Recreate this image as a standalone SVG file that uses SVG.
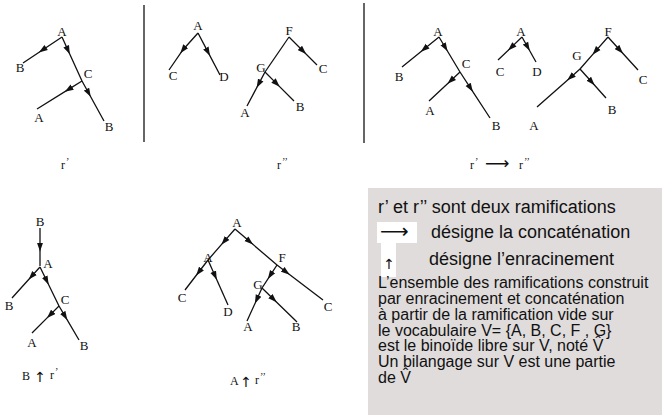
<svg xmlns="http://www.w3.org/2000/svg" width="662" height="415" viewBox="0 0 662 415">
<style>
.lb{font-family:"Liberation Serif","Times New Roman",serif;font-size:13px;fill:#111;text-anchor:middle}
.cap{font-family:"Liberation Serif","Times New Roman",serif;font-size:12px;fill:#111}
.pr{font-size:10px}
.sym{font-family:"DejaVu Sans",sans-serif;fill:#111}
.mid{text-anchor:middle}
.e{fill:none;stroke:#111;stroke-width:1.3;marker-mid:url(#ah)}
.p{fill:none;stroke:#111;stroke-width:1.3}
.tx{font-family:"Liberation Sans",Arial,sans-serif;fill:#111}
</style>
<defs>
<marker id="ah" markerUnits="userSpaceOnUse" viewBox="0 0 10 8" refX="5" refY="4" markerWidth="9" markerHeight="7" orient="auto">
<path d="M0,0.5 L10,4 L0,7.5 z" fill="#111"/>
</marker>
</defs>
<rect width="662" height="415" fill="#fff"/>
<g id="dividers">
<line x1="144" y1="5" x2="144" y2="142" stroke="#333" stroke-width="1.5"/>
<line x1="364" y1="3" x2="364" y2="143" stroke="#333" stroke-width="1.5"/>
</g>
<g id="connectors">
<path class="e" d="M62,37 L42.5,50 L23,63"/>
<path class="e" d="M62,37 L68,50.2 L82,81"/>
<path class="e" d="M82,81 L88.6,93 L104,121"/>
<path class="e" d="M82,81 L68.5,89.4 L37,109"/>
<path class="e" d="M198,33 L183,49.7 L169,70"/>
<path class="e" d="M198,33 L207.9,51.9 L220,75"/>
<path class="e" d="M289,37 L303,51 L317,65"/>
<path class="p" d="M289,37 L265,72"/>
<path class="e" d="M265,72 L258.7,83.9 L247,106"/>
<path class="e" d="M265,72 L276.6,83.6 L294,101"/>
<path class="e" d="M439,37 L424.2,49 L402,67"/>
<path class="e" d="M439,37 L445.3,47.5 L460,72"/>
<path class="e" d="M460,72 L470.5,88.1 L490,118"/>
<path class="e" d="M460,72 L450.7,80.7 L429,101"/>
<path class="e" d="M522,37 L511.2,47.4 L498,60"/>
<path class="e" d="M522,37 L527.6,47 L536,62"/>
<path class="e" d="M608,37 L620,50.2 L638,70"/>
<path class="e" d="M608,37 L595.4,51.4 L580,69"/>
<path class="e" d="M580,69 L570.5,77.4 L537,107"/>
<path class="e" d="M580,69 L591.7,82 L606,98"/>
<path class="e" d="M40,228 L40,247 L40,266"/>
<path class="e" d="M40,267 L31.6,276.3 L12,298"/>
<path class="e" d="M40,267 L46.7,280.7 L59,306"/>
<path class="e" d="M59,306 L65,316.2 L79,340"/>
<path class="e" d="M59,306 L50.1,314.9 L32,333"/>
<path class="e" d="M235,229 L224.2,241.4 L208,260"/>
<path class="e" d="M208,260 L198.8,272 L185,290"/>
<path class="e" d="M208,260 L215,275.75 L228,305"/>
<path class="e" d="M235,229 L249.7,241.6 L277,265"/>
<path class="e" d="M277,265 L286.2,272 L323,300"/>
<path class="e" d="M277,265 L270.25,275.35 L262,288"/>
<path class="e" d="M262,288 L256.75,299.55 L247,321"/>
<path class="e" d="M262,288 L273.55,299.2 L297,322"/>
</g>
<g id="r1">
<g id="r1-A"><text class="lb" x="62" y="36">A</text></g>
<g id="r1-B"><text class="lb" x="20" y="72">B</text></g>
<g id="r1-C"><text class="lb" x="88" y="78">C</text></g>
<g id="r1-A2"><text class="lb" x="39" y="122">A</text></g>
<g id="r1-B2"><text class="lb" x="109" y="131">B</text></g>
<g id="r1-cap"><text class="cap" x="61" y="169">r<tspan class="pr" dx="1" dy="-4">’</tspan></text></g>
</g>
<g id="r2">
<g id="r2-A"><text class="lb" x="198" y="30">A</text></g>
<g id="r2-C"><text class="lb" x="173" y="80">C</text></g>
<g id="r2-D"><text class="lb" x="224" y="81">D</text></g>
<g id="r2-F"><text class="lb" x="289" y="35">F</text></g>
<g id="r2-C2"><text class="lb" x="323" y="73">C</text></g>
<g id="r2-G"><text class="lb" x="261" y="72">G</text></g>
<g id="r2-A2"><text class="lb" x="245" y="117">A</text></g>
<g id="r2-B"><text class="lb" x="300" y="111">B</text></g>
<g id="r2-cap"><text class="cap" x="277" y="169">r<tspan class="pr" dx="1" dy="-4">’’</tspan></text></g>
</g>
<g id="r3">
<g id="r3-A"><text class="lb" x="438" y="36">A</text></g>
<g id="r3-B"><text class="lb" x="399" y="81">B</text></g>
<g id="r3-C"><text class="lb" x="466" y="68">C</text></g>
<g id="r3-A2"><text class="lb" x="430" y="115">A</text></g>
<g id="r3-B2"><text class="lb" x="496" y="130">B</text></g>
<g id="r3-A3"><text class="lb" x="521" y="36">A</text></g>
<g id="r3-C2"><text class="lb" x="500" y="76">C</text></g>
<g id="r3-D"><text class="lb" x="537" y="76">D</text></g>
<g id="r3-F"><text class="lb" x="608" y="36">F</text></g>
<g id="r3-G"><text class="lb" x="577" y="60">G</text></g>
<g id="r3-C3"><text class="lb" x="643" y="84">C</text></g>
<g id="r3-A4"><text class="lb" x="534" y="130">A</text></g>
<g id="r3-B3"><text class="lb" x="612" y="114">B</text></g>
<g id="r3-cap"><text class="cap" x="470" y="169">r<tspan class="pr" dx="1" dy="-4">’</tspan></text><text class="sym" x="485" y="169" font-size="17">⟶</text><text class="cap" x="519" y="169">r<tspan class="pr" dx="1" dy="-4">’’</tspan></text></g>
</g>
<g id="r4">
<g id="r4-B"><text class="lb" x="40" y="226">B</text></g>
<g id="r4-A"><text class="lb" x="48" y="268">A</text></g>
<g id="r4-B2"><text class="lb" x="9" y="310">B</text></g>
<g id="r4-C"><text class="lb" x="65" y="304">C</text></g>
<g id="r4-A2"><text class="lb" x="32" y="347">A</text></g>
<g id="r4-B3"><text class="lb" x="84" y="350">B</text></g>
<g id="r4-cap"><text class="cap" x="22" y="380">B</text><text class="sym mid" x="40" y="382" font-size="14">↑</text><text class="cap" x="50" y="379">r<tspan class="pr" dx="1" dy="-4">’</tspan></text></g>
</g>
<g id="r5">
<g id="r5-A"><text class="lb" x="237" y="227">A</text></g>
<g id="r5-A2"><text class="lb" x="208" y="262">A</text></g>
<g id="r5-C"><text class="lb" x="182" y="302">C</text></g>
<g id="r5-D"><text class="lb" x="228" y="316">D</text></g>
<g id="r5-F"><text class="lb" x="282" y="262">F</text></g>
<g id="r5-G"><text class="lb" x="258" y="289">G</text></g>
<g id="r5-C2"><text class="lb" x="328" y="311">C</text></g>
<g id="r5-A3"><text class="lb" x="248" y="331">A</text></g>
<g id="r5-B"><text class="lb" x="296" y="331">B</text></g>
<g id="r5-cap"><text class="cap" x="230" y="385">A</text><text class="sym mid" x="246" y="387" font-size="14">↑</text><text class="cap" x="255" y="384">r<tspan class="pr" dx="1" dy="-4">’’</tspan></text></g>
</g>
<g id="legend">
<rect x="368" y="188" width="294" height="227" fill="#e0dcdc"/>
<rect x="377" y="222" width="40" height="21" fill="#fff"/>
<rect x="381" y="242" width="15" height="35" fill="#fff"/>
<text class="sym" x="380" y="238" font-size="20">⟶</text>
<text class="sym mid" x="389" y="269" font-size="14">↑</text>
<text class="tx" font-size="18" x="378" y="213">r’ et r’’ sont deux ramifications</text>
<text class="tx" font-size="18" x="431" y="238">désigne la concaténation</text>
<text class="tx" font-size="18" x="429" y="265">désigne l’enracinement</text>
<text class="tx" font-size="16" x="378" y="288">L’ensemble des ramifications construit</text>
<text class="tx" font-size="16" x="378" y="304">par enracinement et concaténation</text>
<text class="tx" font-size="16" x="378" y="320">à partir de la ramification vide sur</text>
<text class="tx" font-size="16" x="378" y="335.5">le vocabulaire V= {A, B, C, F , G}</text>
<text class="tx" font-size="16" x="378" y="351">est le binoïde libre sur V, noté V̂</text>
<text class="tx" font-size="16" x="378" y="367">Un bilangage sur V est une partie</text>
<text class="tx" font-size="16" x="378" y="383">de V̂</text>
</g>
</svg>
